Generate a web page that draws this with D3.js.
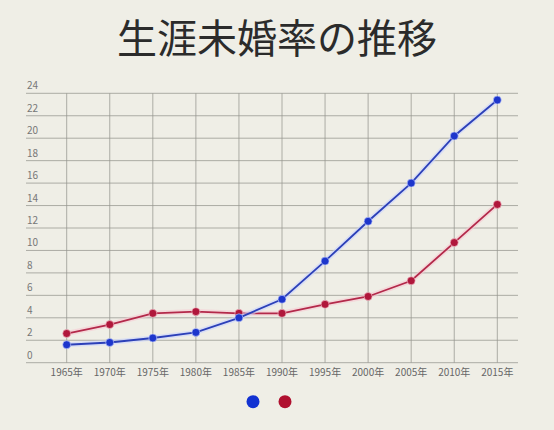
<!DOCTYPE html>
<html>
<head>
<meta charset="utf-8">
<script src="https://cdn.jsdelivr.net/npm/d3@7"></script>
<style>
  body { margin: 0; background: #efeee6; }
  svg { display: block; }
</style>
</head>
<body>
<div id="chart"></div>
<script>
var years = ["1965年", "1970年", "1975年", "1980年", "1985年", "1990年", "1995年", "2000年", "2005年", "2010年", "2015年"];
var male = [1.6, 1.8, 2.2, 2.7, 4.0, 5.65, 9.05, 12.6, 16.0, 20.2, 23.4];
var female = [2.6, 3.4, 4.4, 4.55, 4.4, 4.4, 5.2, 5.9, 7.3, 10.7, 14.1];
var yTicks = [0, 2, 4, 6, 8, 10, 12, 14, 16, 18, 20, 22, 24];

var width = 554, height = 430;
var left = 26, right = 518;

var svg = d3.select("#chart").append("svg")
    .attr("width", width)
    .attr("height", height);

svg.append("rect").attr("width", width).attr("height", height).attr("fill", "#efeee6");

// title
svg.append("text")
    .attr("x", 277).attr("y", 53)
    .attr("text-anchor", "middle")
    .style("font-family", "Noto Sans CJK JP")
    .style("font-size", "40px")
    .style("font-weight", "400")
    .attr("fill", "#2b2b2b")
    .text("生涯未婚率の推移");

var xScale = d3.scalePoint().domain(years).range([66.7, 497.3]);
var yScale = d3.scaleLinear().domain([0, 24]).range([362.7, 93.3]);

// horizontal grid
svg.append("g").selectAll("line").data(yTicks).enter().append("line")
    .attr("x1", left).attr("x2", right)
    .attr("y1", function(d){ return yScale(d); })
    .attr("y2", function(d){ return yScale(d); })
    .attr("stroke", "#96968f")
    .attr("stroke-width", 1)
    .attr("opacity", 0.75);

// vertical grid
svg.append("g").selectAll("line").data(years).enter().append("line")
    .attr("x1", function(d){ return xScale(d); })
    .attr("x2", function(d){ return xScale(d); })
    .attr("y1", yScale(24)).attr("y2", yScale(0))
    .attr("stroke", "#96968f")
    .attr("stroke-width", 1)
    .attr("opacity", 0.75);

// y labels
svg.append("g").selectAll("text").data(yTicks).enter().append("text")
    .attr("x", 27)
    .attr("y", function(d){ return yScale(d) - 4; })
    .style("font-family", "Noto Sans CJK JP")
    .style("font-size", "10px")
    .attr("fill", "#777")
    .text(function(d){ return d; });

// x labels
svg.append("g").selectAll("text").data(years).enter().append("text")
    .attr("x", function(d){ return xScale(d); })
    .attr("y", 376)
    .attr("text-anchor", "middle")
    .style("font-family", "Noto Sans CJK JP")
    .style("font-size", "10px")
    .attr("fill", "#666")
    .text(function(d){ return d; });

//Draw lines
var line = d3.line()
    .x(function(d, i){ return xScale(years[i]); })
    .y(function(d){ return yScale(d); });

function drawSeries(values, lineColor, dotColor, glow) {
  svg.append("path")
      .attr("d", line(values))
      .attr("fill", "none")
      .attr("stroke", glow)
      .attr("stroke-width", 5)
      .attr("opacity", 0.6);
  svg.append("path")
      .attr("d", line(values))
      .attr("fill", "none")
      .attr("stroke", lineColor)
      .attr("stroke-width", 1.8);
  svg.append("g").selectAll("circle").data(values).enter().append("circle")
      .attr("cx", function(d, i){ return xScale(years[i]); })
      .attr("cy", function(d){ return yScale(d); })
      .attr("r", 4)
      .attr("fill", dotColor)
      .attr("stroke", glow)
      .attr("stroke-width", 1)
      .attr("stroke-opacity", 0.6);
}

drawSeries(female, "#b3294a", "#b0173b", "#f7c9d2");
drawSeries(male, "#2c40b8", "#1d36cc", "#c9d3ff");

// legend
svg.append("circle").attr("cx", 253).attr("cy", 401.7).attr("r", 6.5).attr("fill", "#1232d2");
svg.append("circle").attr("cx", 285).attr("cy", 401.7).attr("r", 6.5).attr("fill", "#b0102f");
</script>
</body>
</html>
